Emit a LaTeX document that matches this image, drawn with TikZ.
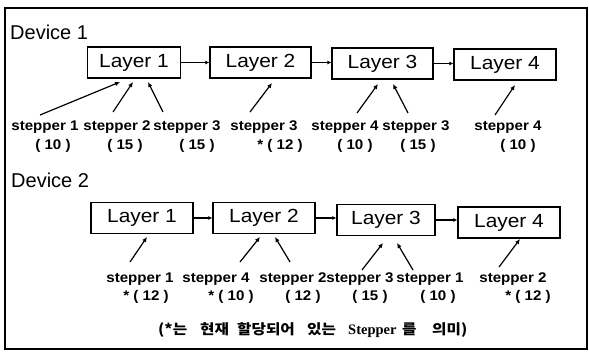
\documentclass[tikz,border=0pt]{standalone}
\usepackage{fontspec}
\setmainfont{Liberation Sans}
\newfontfamily\widefont[FakeStretch=1.1]{Liberation Sans}
\newfontfamily\stepfont[FakeStretch=1.08]{Liberation Sans}
\newfontfamily\krfont[FakeStretch=1.12]{Noto Sans CJK KR}
\newfontfamily\tmsfont{Liberation Serif}
\usetikzlibrary{arrows.meta,calc}
\begin{document}
\begin{tikzpicture}[x=1pt,y=-1pt,
  frame/.style={line width=1.6pt},
  layerbox/.style={draw,line width=1.3pt,minimum height=31pt,inner sep=0pt,font=\widefont\fontsize{19}{19}\selectfont},
  devlabel/.style={anchor=base west,inner sep=0pt,font=\fontsize{20}{20}\selectfont},
  steplabel/.style={anchor=base,inner sep=0pt,font=\stepfont\bfseries\fontsize{14}{15}\selectfont},
  notekr/.style={anchor=base west,inner sep=0pt,font=\krfont\bfseries\fontsize{14}{14}\selectfont},
  notetm/.style={anchor=base west,inner sep=0pt,font=\tmsfont\bfseries\fontsize{14.5}{15}\selectfont},
  arr/.style={line width=1.2pt,-{Latex[length=5pt,width=4.5pt]}},
  link/.style={line width=1.2pt,-{Latex[length=4pt,width=4pt]}}]
\useasboundingbox (0,0) rectangle (589,352);
\draw[frame] (5,8) rectangle (587,349);

% Device 1
\node[devlabel] (dev1) at (10,40) {Device 1};
\node[layerbox,minimum width=93pt]  (a1) at (134,62.5) {Layer 1};
\node[layerbox,minimum width=101pt] (a2) at (260.5,62.5) {Layer 2};
\node[layerbox,minimum width=101pt] (a3) at (382.5,63.5) {Layer 3};
\node[layerbox,minimum width=102pt] (a4) at (505,64.5) {Layer 4};
\draw[link] (a1.east) -- (a1.east -| a2.west);
\draw[link] (a2.east) -- (a2.east -| a3.west);
\draw[link] (a3.east) -- (a3.east -| a4.west);

\node[steplabel] (p1) at (45,131) {stepper 1};
\node[steplabel] (p1n) at (53,150) {( 10 )};
\node[steplabel] (p2) at (117,131) {stepper 2};
\node[steplabel] (p2n) at (125,150) {( 15 )};
\node[steplabel] (p3) at (187,131) {stepper 3};
\node[steplabel] (p3n) at (197,150) {( 15 )};
\node[steplabel] (p4) at (264,131) {stepper 3};
\node[steplabel] (p4n) at (280,150) {* ( 12 )};
\node[steplabel] (p5) at (345,131) {stepper 4};
\node[steplabel] (p5n) at (355,150) {( 10 )};
\node[steplabel] (p6) at (416,131) {stepper 3};
\node[steplabel] (p6n) at (418,150) {( 15 )};
\node[steplabel] (p7) at (508,131) {stepper 4};
\node[steplabel] (p7n) at (518,150) {( 10 )};

\coordinate (p1s) at (40,115);  \coordinate (p1e) at (120,82);
\coordinate (p2s) at (113,112); \coordinate (p2e) at (133,82);
\coordinate (p3s) at (163,112); \coordinate (p3e) at (148,82);
\coordinate (p4s) at (250,112); \coordinate (p4e) at (272,83);
\coordinate (p5s) at (357,113); \coordinate (p5e) at (378,84);
\coordinate (p6s) at (408,113); \coordinate (p6e) at (393,84);
\coordinate (p7s) at (495,115); \coordinate (p7e) at (515,85);
\foreach \i in {1,...,7} {\draw[arr] (p\i s) -- (p\i e);}

% Device 2
\node[devlabel] (dev2) at (11,188) {Device 2};
\node[layerbox,minimum width=102pt] (b1) at (142,218) {Layer 1};
\node[layerbox,minimum width=102pt] (b2) at (264,218) {Layer 2};
\node[layerbox,minimum width=98pt]  (b3) at (386,220) {Layer 3};
\node[layerbox,minimum width=102pt] (b4) at (509,222.5) {Layer 4};
\draw[link] (b1.east) -- (b1.east -| b2.west);
\draw[link] (b2.east) -- (b2.east -| b3.west);
\draw[link] (b3.east) -- (b3.east -| b4.west);

\node[steplabel] (q1) at (140,283) {stepper 1};
\node[steplabel] (q1n) at (146,301) {* ( 12 )};
\node[steplabel] (q2) at (216,283) {stepper 4};
\node[steplabel] (q2n) at (231,301) {* ( 10 )};
\node[steplabel] (q3) at (293,283) {stepper 2};
\node[steplabel] (q3n) at (303,301) {( 12 )};
\node[steplabel] (q4) at (360,283) {stepper 3};
\node[steplabel] (q4n) at (370,301) {( 15 )};
\node[steplabel] (q5) at (430,283) {stepper 1};
\node[steplabel] (q5n) at (438,301) {( 10 )};
\node[steplabel] (q6) at (513,283) {stepper 2};
\node[steplabel] (q6n) at (528,301) {* ( 12 )};

\coordinate (q1s) at (130,262); \coordinate (q1e) at (147,237);
\coordinate (q2s) at (240,262); \coordinate (q2e) at (260,237);
\coordinate (q3s) at (290,262); \coordinate (q3e) at (275,237);
\coordinate (q4s) at (362,270); \coordinate (q4e) at (383,243);
\coordinate (q5s) at (413,270); \coordinate (q5e) at (397,243);
\coordinate (q6s) at (499,267); \coordinate (q6e) at (520,239);
\foreach \i in {1,...,6} {\draw[arr] (q\i s) -- (q\i e);}

% footnote
\node[notekr] (n1) at (158,335) {(*는};
\node[notekr] (n2) at (200,335) {현재};
\node[notekr] (n3) at (237,335) {할당되어};
\node[notekr] (n4) at (307,335) {있는};
\node[notetm] (n5) at (348,335) {Stepper};
\node[notekr] (n6) at (402,335) {를};
\node[notekr] (n7) at (432,335) {의미)};
\end{tikzpicture}
\end{document}
